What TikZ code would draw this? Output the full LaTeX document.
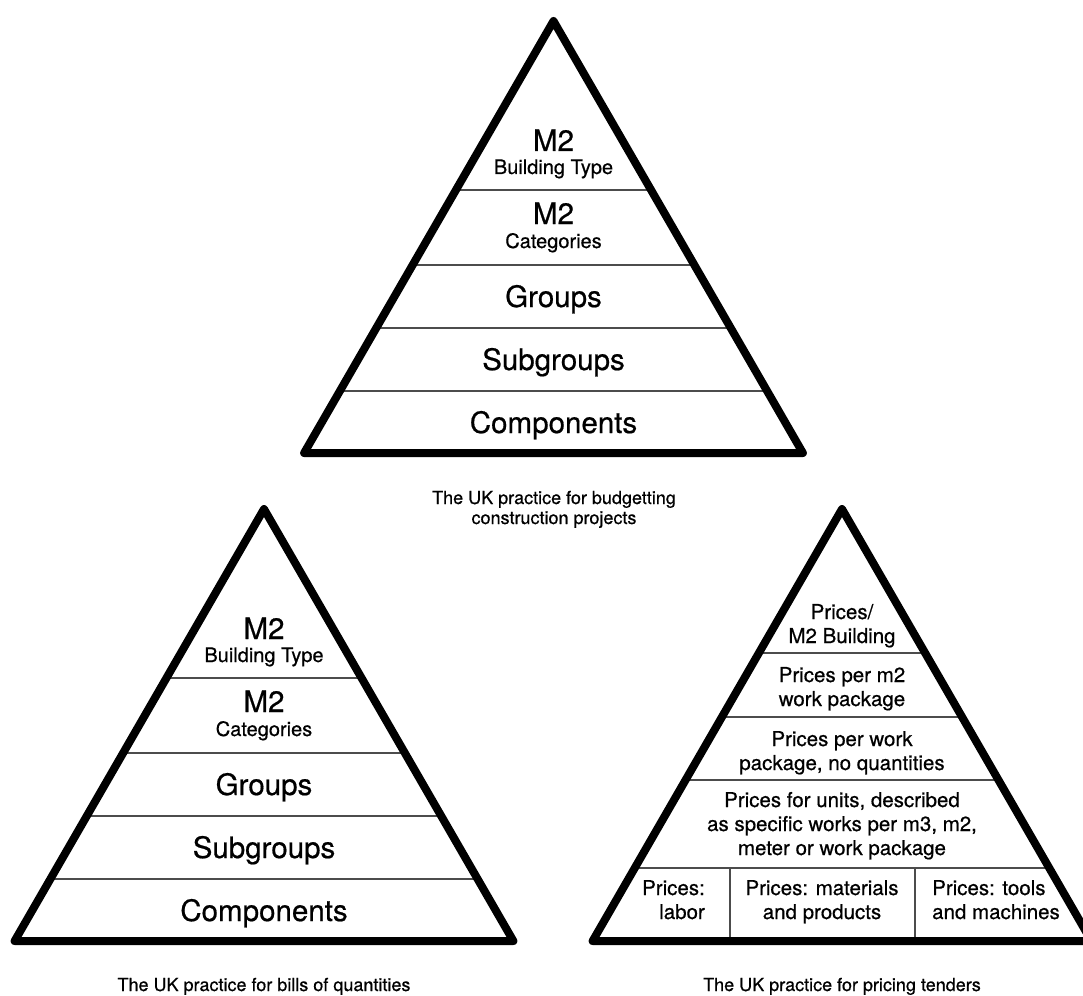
\documentclass[tikz,border=0pt]{standalone}
\usepackage{fontspec}
\setmainfont{TeX Gyre Heros}
\newfontface\heavier{TeX Gyre Heros}[FakeBold=0.6]
\newcommand\szbig{\heavier\fontsize{29.5}{32}\selectfont}
\newcommand\szsub{\heavier\fontsize{20}{23}\selectfont}
\newcommand\szrow{\heavier\fontsize{20.5}{24}\selectfont}
\newcommand\szcap{\heavier\fontsize{18}{20}\selectfont}
\begin{document}
\begin{tikzpicture}[x=1pt,y=-1pt,
  frame/.style={line width=8pt, line join=round, line cap=round, draw=black},
  divider/.style={line width=2pt, draw=black!70},
  txt/.style={anchor=base, inner sep=0pt},
  big/.style={txt, font=\szbig},
  sub/.style={txt, font=\szsub},
  row/.style={txt, font=\szrow},
  caption/.style={txt, font=\szcap}]
\useasboundingbox (0,0) rectangle (1083,995);

% ---------- budgeting pyramid ----------
\begin{scope}
  \clip (553.5,21) -- (304.1,453) -- (802.9,453) -- cycle;
  \foreach \yy in {190,265,328,391}
    \draw[divider] (290,\yy) -- (820,\yy);
\end{scope}
\draw[frame] (553.5,21) -- (304.1,453) -- (802.9,453) -- cycle;

\node[big] (tA1) at (553.5,151) {M2};
\node[sub] (tA2) at (553.5,174) {Building Type};
\node[big] (tB1) at (553.5,224) {M2};
\node[sub] (tB2) at (553.5,248) {Categories};
\node[big] (tC)  at (553.5,307) {Groups};
\node[big] (tD)  at (553.5,370) {Subgroups};
\node[big] (tE)  at (553.5,433) {Components};
\node[caption] (tcap1) at (554,504) {The UK practice for budgetting};
\node[caption] (tcap2) at (554,524) {construction projects};

% ---------- bills of quantities pyramid ----------
\begin{scope}
  \clip (264,509) -- (14.6,941) -- (513.4,941) -- cycle;
  \foreach \yy in {678,753,816,879}
    \draw[divider] (0,\yy) -- (530,\yy);
\end{scope}
\draw[frame] (264,509) -- (14.6,941) -- (513.4,941) -- cycle;

\node[big] (lA1) at (264,639) {M2};
\node[sub] (lA2) at (264,662) {Building Type};
\node[big] (lB1) at (264,712) {M2};
\node[sub] (lB2) at (264,736) {Categories};
\node[big] (lC)  at (264,795) {Groups};
\node[big] (lD)  at (264,858) {Subgroups};
\node[big] (lE)  at (264,921) {Components};
\node[caption] (lcap) at (264,991) {The UK practice for bills of quantities};

% ---------- pricing tenders pyramid ----------
\begin{scope}
  \clip (842,509) -- (592.6,941) -- (1091.4,941) -- cycle;
  \foreach \yy in {653,717,780,868}
    \draw[divider] (580,\yy) -- (1100,\yy);
  \draw[divider] (729.5,868) -- (729.5,945);
  \draw[divider] (915,868) -- (915,945);
\end{scope}
\draw[frame] (842,509) -- (592.6,941) -- (1091.4,941) -- cycle;

\node[row] (rA1) at (842,619) {Prices/};
\node[row] (rA2) at (842,643) {M2 Building};
\node[row] (rB1) at (842,682) {Prices per m2};
\node[row] (rB2) at (842,706) {work package};
\node[row] (rC1) at (842,746) {Prices per work};
\node[row] (rC2) at (842,770) {package, no quantities};
\node[row] (rD1) at (842,807) {Prices for units, described};
\node[row] (rD2) at (842,831) {as specific works per m3, m2,};
\node[row] (rD3) at (842,855) {meter or work package};
\node[row, anchor=base east] (rE1) at (705,895) {Prices:};
\node[row, anchor=base east] (rE2) at (705,919) {labor};
\node[row] (rF1) at (822,895) {Prices: materials};
\node[row] (rF2) at (822,919) {and products};
\node[row, anchor=base west] (rG1) at (932,895) {Prices: tools};
\node[row, anchor=base west] (rG2) at (932,919) {and machines};
\node[caption] (rcap) at (842,991) {The UK practice for pricing tenders};
\end{tikzpicture}
\end{document}
